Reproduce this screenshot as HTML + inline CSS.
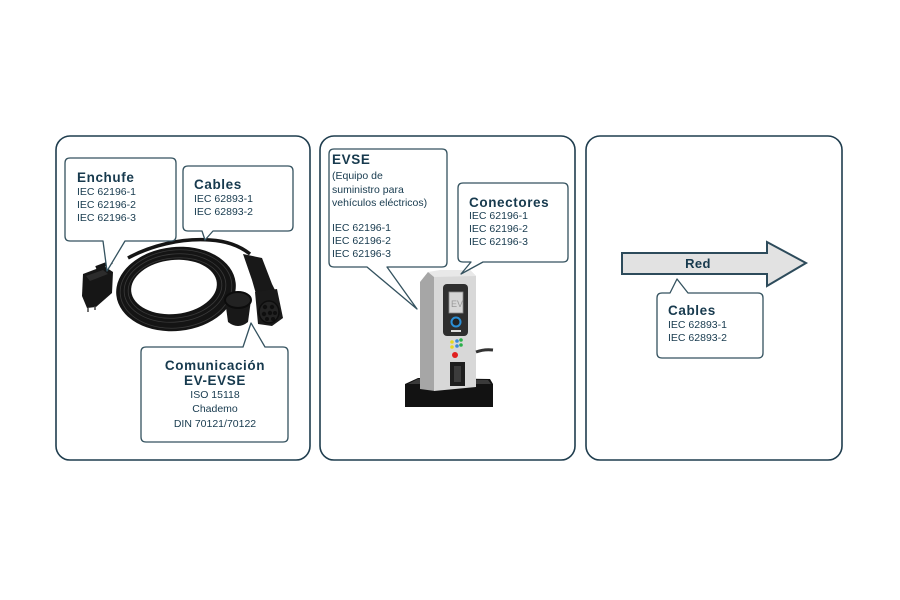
<!DOCTYPE html>
<html><head><meta charset="utf-8"><style>
html,body{margin:0;padding:0;background:#fff;}
svg{display:block;}
text{font-family:"Liberation Sans",Arial,sans-serif;fill:#173a4e;}
.h{font-weight:bold;font-size:13.5px;letter-spacing:0.6px;}
.t{font-size:10.5px;}
</style></head><body>
<svg width="900" height="600" viewBox="0 0 900 600" xmlns="http://www.w3.org/2000/svg">
<rect width="900" height="600" fill="#fff"/>
<!-- panels -->
<g fill="#fff" stroke="#1f3d4e" stroke-width="1.6">
<rect x="56" y="136" width="254" height="324" rx="14"/>
<rect x="320" y="136" width="255" height="324" rx="14"/>
<rect x="586" y="136" width="256" height="324" rx="14"/>
</g>

<!-- cable image -->
<g>
<!-- top cable to connector -->
<path d="M128,258 C150,246 180,238 210,240 C228,241 240,246 250,254" fill="none" stroke="#151515" stroke-width="3.5"/>
<!-- coil -->
<ellipse cx="176" cy="289" rx="60" ry="42" fill="#141414" transform="rotate(-6 176 289)"/>
<ellipse cx="174" cy="287" rx="43" ry="27" fill="#fff" transform="rotate(-6 174 287)"/>
<g fill="none" stroke="#3a3a3a" stroke-width="0.8">
<ellipse cx="176" cy="289" rx="56" ry="39" transform="rotate(-6 176 289)"/>
<ellipse cx="175" cy="288" rx="51" ry="34" transform="rotate(-6 175 288)"/>
<ellipse cx="175" cy="288" rx="47" ry="30" transform="rotate(-6 175 288)"/>
</g>
<!-- plug -->
<path d="M96,268 L112,262" stroke="#151515" stroke-width="4"/>
<polygon points="83,274 104,266 113,272 112,293 96,307 87,308 82,296" fill="#161616"/>
<polygon points="86,276 103,270 108,274 90,281" fill="#2c2c2c"/>
<g stroke="#444" stroke-width="1.5">
<line x1="88" y1="308" x2="88" y2="312"/><line x1="95" y1="306" x2="95" y2="310"/>
</g>
<!-- cap -->
<path d="M225,300 L228,322 Q238,330 248,322 L251,300 Z" fill="#181818"/>
<ellipse cx="238" cy="300" rx="13" ry="8" fill="#222" stroke="#0c0c0c" stroke-width="2"/>
<!-- connector handle -->
<polygon points="243,254 262,258 272,284 276,292 256,294 252,280" fill="#181818"/>
<polygon points="255,292 277,289 283,318 272,326 258,324" fill="#1a1a1a"/>
<ellipse cx="269" cy="312" rx="10" ry="11" fill="#232323" stroke="#0d0d0d" stroke-width="1.5"/>
<g fill="#0e0e0e">
<circle cx="265" cy="307" r="2.2"/><circle cx="272" cy="307" r="2.2"/>
<circle cx="264" cy="314" r="2.2"/><circle cx="270" cy="313" r="2.2"/><circle cx="275" cy="313" r="2"/>
<circle cx="267" cy="319" r="2"/><circle cx="273" cy="319" r="2"/>
</g>
</g>

<!-- EVSE station -->
<g>
<polygon points="405,384 418,378 490,379 493,384 493,407 405,407" fill="#121212"/>
<polygon points="408,384 418,379 488,380 491,384" fill="#3a3a3a"/>
<polygon points="420,282 428,272 435,276 435,391 420,389" fill="#a6a6a6"/>
<polygon points="434,276 440,270 470,270 476,276 476,387 434,391" fill="#d8d8d8"/>
<polygon points="428,272 440,270 470,270 476,276 434,277" fill="#e8e8e8"/>
<rect x="443" y="284" width="25" height="52" rx="4" fill="#2e2e2e"/>
<rect x="449" y="292" width="14" height="21" fill="#d6d6d6" stroke="#8a8a8a" stroke-width="0.8"/>
<text x="451" y="307" style="font-size:9px;fill:#999">EV</text>
<circle cx="456" cy="322" r="4.5" fill="#222" stroke="#2b8fd6" stroke-width="2"/>
<rect x="451" y="330" width="10" height="2" fill="#ddd"/>
<circle cx="452" cy="342" r="1.8" fill="#e8d820"/><circle cx="452" cy="347" r="1.8" fill="#e8d820"/>
<circle cx="457" cy="341" r="1.8" fill="#3a8ad8"/><circle cx="457" cy="346" r="1.8" fill="#3a8ad8"/>
<circle cx="461" cy="340" r="1.8" fill="#2ab04a"/><circle cx="461" cy="345" r="1.8" fill="#2ab04a"/>
<circle cx="455" cy="355" r="3" fill="#e02020"/>
<rect x="450" y="362" width="15" height="24" fill="#1e1e1e"/>
<rect x="454" y="366" width="7" height="16" fill="#3c3c3c"/>
<path d="M476,352 Q484,349 493,350" fill="none" stroke="#333" stroke-width="3"/>
</g>

<!-- arrow -->
<polygon points="622,253 767,253 767,242 806,263 767,286 767,274 622,274" fill="#e2e2e2" stroke="#2d4b5b" stroke-width="2" stroke-linejoin="miter"/>
<text x="698" y="268" class="h" text-anchor="middle" style="font-size:13px;letter-spacing:0.4px">Red</text>

<!-- callouts -->
<g fill="#fff" stroke="#34525f" stroke-width="1.3" stroke-linejoin="round">
<path d="M70,158 H171 Q176,158 176,163 V236 Q176,241 171,241 H125 L107,271 L103,241 H70 Q65,241 65,236 V163 Q65,158 70,158 Z"/>
<path d="M188,166 H288 Q293,166 293,171 V226 Q293,231 288,231 H213 L205,240 L202,231 H188 Q183,231 183,226 V171 Q183,166 188,166 Z"/>
<path d="M146,347 H243 L251,323 L265,347 H283 Q288,347 288,352 V437 Q288,442 283,442 H146 Q141,442 141,437 V352 Q141,347 146,347 Z"/>
<path d="M334,149 H442 Q447,149 447,154 V262 Q447,267 442,267 H387 L417,309 L367,267 H334 Q329,267 329,262 V154 Q329,149 334,149 Z"/>
<path d="M463,183 H563 Q568,183 568,188 V257 Q568,262 563,262 H483 L461,274 L471,262 H463 Q458,262 458,257 V188 Q458,183 463,183 Z"/>
<path d="M662,293 H670 L677,279 L688,293 H758 Q763,293 763,298 V353 Q763,358 758,358 H662 Q657,358 657,353 V298 Q657,293 662,293 Z"/>
</g>

<!-- texts panel 1 -->
<text x="77" y="182" class="h">Enchufe</text>
<text x="77" y="195" class="t">IEC 62196-1</text>
<text x="77" y="208" class="t">IEC 62196-2</text>
<text x="77" y="221" class="t">IEC 62196-3</text>

<text x="194" y="189" class="h">Cables</text>
<text x="194" y="202" class="t">IEC 62893-1</text>
<text x="194" y="215" class="t">IEC 62893-2</text>

<text x="215" y="370" class="h" text-anchor="middle">Comunicación</text>
<text x="215" y="385" class="h" text-anchor="middle">EV-EVSE</text>
<text x="215" y="398" class="t" text-anchor="middle">ISO 15118</text>
<text x="215" y="412" class="t" text-anchor="middle">Chademo</text>
<text x="215" y="427" class="t" text-anchor="middle">DIN 70121/70122</text>

<!-- texts panel 2 -->
<text x="332" y="164" class="h">EVSE</text>
<text x="332" y="179" class="t">(Equipo de</text>
<text x="332" y="193" class="t">suministro para</text>
<text x="332" y="206" class="t">vehículos eléctricos)</text>
<text x="332" y="231" class="t">IEC 62196-1</text>
<text x="332" y="244" class="t">IEC 62196-2</text>
<text x="332" y="257" class="t">IEC 62196-3</text>

<text x="469" y="207" class="h">Conectores</text>
<text x="469" y="219" class="t">IEC 62196-1</text>
<text x="469" y="232" class="t">IEC 62196-2</text>
<text x="469" y="245" class="t">IEC 62196-3</text>

<!-- texts panel 3 -->
<text x="668" y="315" class="h">Cables</text>
<text x="668" y="328" class="t">IEC 62893-1</text>
<text x="668" y="341" class="t">IEC 62893-2</text>
</svg>
</body></html>
